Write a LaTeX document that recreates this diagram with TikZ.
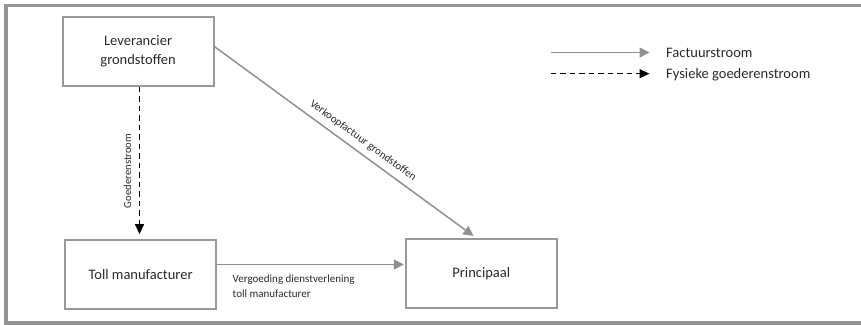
\documentclass[tikz,border=0pt]{standalone}
\usepackage{fontspec}
\setmainfont{Carlito}
\usetikzlibrary{arrows.meta}
\definecolor{framegray}{HTML}{959595}
\definecolor{boxgray}{HTML}{999999}
\definecolor{flowgray}{HTML}{909090}
\definecolor{txt}{HTML}{2A2A2A}
\begin{document}
\begin{tikzpicture}[x=1pt,y=-1pt,
  party/.style={draw=boxgray, line width=2pt, minimum width=151pt, minimum height=69pt,
    inner sep=0pt, align=center, text=txt, font=\fontsize{14.5}{19.5}\selectfont},
  invoice/.style={draw=flowgray, line width=1.5pt, -{Triangle[length=10pt,width=10pt]}},
  goods/.style={draw=black, line width=1.5pt, dash pattern=on 5.5pt off 4pt,
    -{Triangle[length=10pt,width=9pt]}},
  lbl/.style={text=txt, font=\fontsize{11}{14.7}\selectfont, inner sep=0pt},
  legendtext/.style={text=txt, font=\fontsize{14.5}{17}\selectfont, inner sep=0pt, anchor=base west},
]
\useasboundingbox (0,0) rectangle (861,324);

% outer frame (right side runs past the page edge)
\begin{scope}
  \clip (0,0) rectangle (861,324);
  \draw[framegray, line width=3.5pt] (6,5.5) rectangle (866,323);
\end{scope}

% parties
\node[party] (lev) at (138.1,51.2) {Leverancier\\grondstoffen};
\node[party] (toll) at (140.6,274.3) {Toll manufacturer};
\node[party] (princ) at (481.3,273.8) {Principaal};

% physical flow of goods
\coordinate (gx) at (139.5,0);
\draw[goods, shorten >=4.7pt] (lev.south -| gx) -- (toll.north -| gx);
\node[lbl, rotate=90, font=\fontsize{10.7}{13}\selectfont] (glabel) at (127.4,171) {Goederenstroom};

% invoice flows
\draw[invoice, shorten >=4pt] ([yshift=4.5pt]lev.east) -- ([xshift=-4.6pt]princ.north)
  node[lbl, sloped, anchor=south, pos=0.54, inner sep=6pt] (vlabel) {Verkoopfactuur grondstoffen};
\coordinate (hstart) at ([yshift=9.8pt]toll.east);
\draw[invoice, shorten >=1pt] (hstart) -- (princ.west |- hstart);
\node[lbl, anchor=north west, align=left] (hlabel) at (232.5,275) {Vergoeding dienstverlening\\toll manufacturer};

% legend
\coordinate (la1) at (550.7,52.5);
\coordinate (lb1) at (649.5,52.5);
\coordinate (la2) at (550.7,73.7);
\coordinate (lb2) at (649.5,73.7);
\draw[invoice] (la1) -- (lb1);
\draw[goods] (la2) -- (lb2);
\node[legendtext] (leg1) at (666,57.8) {Factuurstroom};
\node[legendtext] (leg2) at (666,78) {Fysieke goederenstroom};
\end{tikzpicture}
\end{document}
